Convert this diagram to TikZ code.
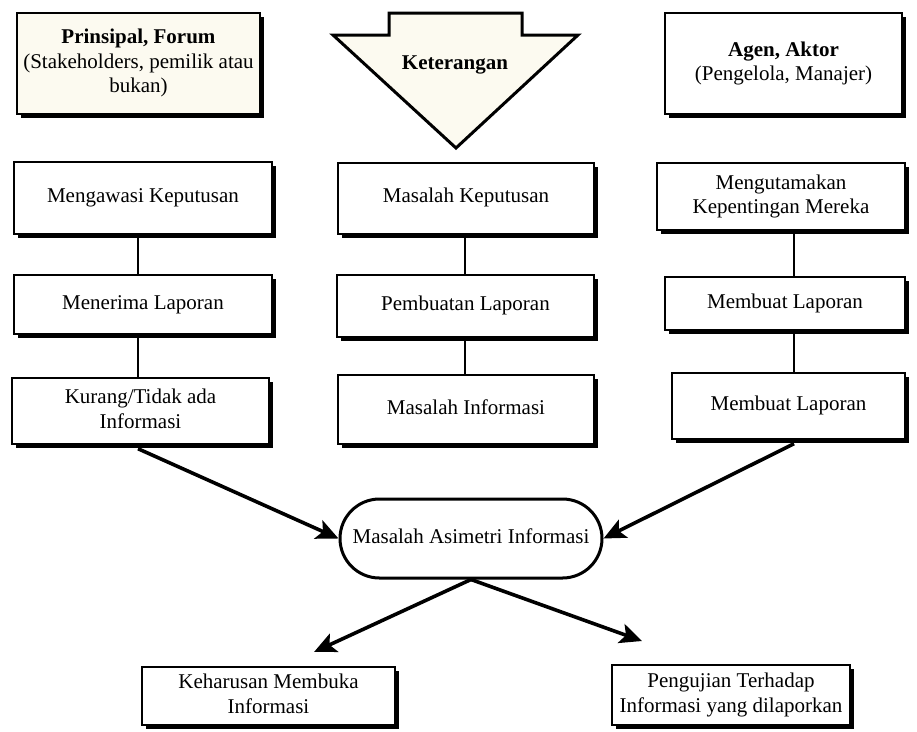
\documentclass[tikz,border=0pt]{standalone}
\usepackage{fontspec}
\setmainfont{Liberation Serif}
\usetikzlibrary{shapes.misc,arrows.meta,shadows}
\definecolor{cream}{RGB}{252,250,240}
\newcommand{\bxt}[2][0pt]{\raisebox{#1}{\begin{tabular}{@{}c@{}}#2\end{tabular}}}
\begin{document}
\begin{tikzpicture}[x=1pt,y=-1pt,
  font=\fontsize{21}{24.5}\selectfont,
  sbox/.style={draw=black, line width=2.4pt, fill=white, rectangle, inner sep=0pt,
     drop shadow={shadow xshift=3.5pt, shadow yshift=-3.5pt, fill=black, opacity=1}},
  wh/.style 2 args={minimum width=#1pt, minimum height=#2pt},
  conn/.style={line width=2.8pt},
  arr/.style={line width=3.6pt, -{Stealth[length=22pt,width=20pt,inset=5pt]}},
  pill/.style={draw=black, line width=3pt, fill=white, rounded rectangle, inner sep=0pt},
  bigarrow/.style={draw=black, line width=3pt, fill=cream, line join=miter},
]
\useasboundingbox (0,0) rectangle (917,731);

% big arrow "Keterangan"
\draw[bigarrow] (389,13) -- (522,13) -- (522,35) -- (578,35) -- (456,148) -- (333,35) -- (389,35) -- cycle;
\node[font=\fontsize{21}{24.5}\selectfont\bfseries] (ket) at (455,65) {Keterangan};

% top boxes
\node[sbox, fill=cream, wh={243}{101}] (P) at (138.5,63.5)
  {\bxt[-1pt]{\textbf{Prinsipal, Forum}\\(Stakeholders, pemilik atau\\bukan)}};
\node[sbox, wh={237}{101}] (A) at (783.5,63.5)
  {\bxt[6pt]{\textbf{Agen, Aktor}\\(Pengelola, Manajer)}};

% left column
\node[sbox, wh={258}{72}] (L2) at (143,198) {\bxt[6pt]{Mengawasi Keputusan}};
\node[sbox, wh={258}{59}] (L3) at (143,304.5) {\bxt[6.5pt]{Menerima Laporan}};
\node[sbox, wh={257}{66}] (L4) at (140.5,411) {\bxt[3.5pt]{Kurang/Tidak ada\\Informasi}};

% middle column
\node[sbox, wh={256}{71}] (M2) at (466,198.5) {\bxt[8.5pt]{Masalah Keputusan}};
\node[sbox, wh={257}{62}] (M3) at (465.5,306) {\bxt[3pt]{Pembuatan Laporan}};
\node[sbox, wh={256}{69}] (M4) at (466,409.5) {\bxt[4.5pt]{Masalah Informasi}};

% right column
\node[sbox, wh={248}{67}] (R2) at (781,196.5) {\bxt[5.5pt]{Mengutamakan\\Kepentingan Mereka}};
\node[sbox, wh={240}{53}] (R3) at (785,303.5) {\bxt[4.5pt]{Membuat Laporan}};
\node[sbox, wh={233}{66}] (R4) at (788.5,406) {\bxt[3pt]{Membuat Laporan}};

% central pill
\node[pill, minimum width=262pt, minimum height=79pt] (S) at (471,538.5) {\bxt[1pt]{Masalah Asimetri Informasi}};

% bottom boxes
\node[sbox, wh={253}{58}] (B1) at (268.5,696) {\bxt[-4pt]{Keharusan Membuka\\Informasi}};
\node[sbox, wh={238}{60}] (B2) at (731,695) {\bxt[-4.5pt]{Pengujian Terhadap\\Informasi yang dilaporkan}};

% column line positions
\coordinate (cl) at (138,0);
\coordinate (cm) at (465,0);
\coordinate (cr) at (794,0);
\coordinate (t1) at (314,652);
\coordinate (t2) at (642,641);

% vertical connectors
\draw[conn] (L2.south -| cl) -- (L3.north -| cl);
\draw[conn] (L3.south -| cl) -- (L4.north -| cl);
\draw[conn] (M2.south -| cm) -- (M3.north -| cm);
\draw[conn] (M3.south -| cm) -- (M4.north -| cm);
\draw[conn] (R2.south -| cr) -- (R3.north -| cr);
\draw[conn] (R3.south -| cr) -- (R4.north -| cr);

% arrows into and out of the pill
\draw[arr] ([yshift=-3.5pt]L4.south -| cl) -- (S.west);
\draw[arr] ([yshift=-3.5pt]R4.south -| cr) -- (S.east);
\draw[arr] (S.south) -- (t1);
\draw[arr] (S.south) -- (t2);
\end{tikzpicture}
\end{document}
